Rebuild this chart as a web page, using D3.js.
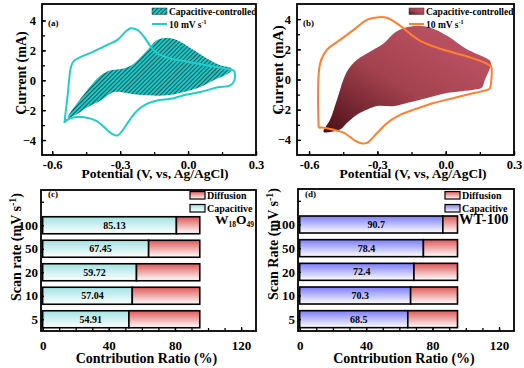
<!DOCTYPE html>
<html>
<head>
<meta charset="utf-8">
<script src="https://cdn.jsdelivr.net/npm/d3@7"></script>
<style>
body { margin: 0; background: #fff; }
text { font-family: "Liberation Serif", "Times New Roman", serif; font-weight: bold; fill: #000; }
</style>
</head>
<body>
<script>
//////////////// Data ////////////////////
// (a) W18O49 CV loop at 10 mV/s  [V, mA]
var cvLoopA = [
  [-0.546,-2.85],[-0.531,-0.9],[-0.517,0.9],[-0.505,1.28],[-0.473,1.57],[-0.42,1.9],
  [-0.356,2.36],[-0.312,2.7],[-0.275,3.26],[-0.253,3.48],[-0.224,3.37],[-0.195,2.92],
  [-0.165,2.25],[-0.136,1.8],[-0.078,1.46],[-0.004,1.24],[0.083,1.01],[0.157,0.79],
  [0.2,0.67],[0.205,0.56],[0.205,0.0],[0.186,-0.34],[0.127,-0.49],[0.054,-0.79],
  [-0.019,-1.01],[-0.078,-1.24],[-0.136,-1.35],[-0.18,-1.57],[-0.224,-2.02],[-0.26,-2.7],
  [-0.29,-3.37],[-0.312,-3.7],[-0.334,-3.6],[-0.37,-3.15],[-0.407,-2.7],[-0.458,-2.47],
  [-0.502,-2.47],[-0.539,-2.7],[-0.546,-2.85]
];
// (a) capacitive-controlled region
var capAreaA = [
  [-0.531,-2.52],[-0.458,-0.9],[-0.385,0.34],[-0.341,0.67],[-0.283,0.79],[-0.239,1.12],
  [-0.18,2.02],[-0.136,2.7],[-0.078,2.81],[-0.034,2.58],[0.025,2.02],[0.083,1.46],
  [0.142,1.01],[0.193,0.79],[0.186,0.56],[0.113,0.0],[0.054,-0.45],[-0.019,-0.79],
  [-0.092,-1.01],[-0.18,-1.01],[-0.253,-0.9],[-0.327,-0.79],[-0.385,-1.35],[-0.444,-1.8],
  [-0.502,-2.36]
];
// (b) WT-100 CV loop at 10 mV/s
var cvLoopB = [
  [-0.558,-3.19],[-0.551,1.1],[-0.521,1.98],[-0.462,2.64],[-0.403,3.3],[-0.344,3.96],
  [-0.292,4.13],[-0.256,4.07],[-0.196,3.52],[-0.152,2.97],[-0.108,2.53],[-0.034,2.09],
  [0.04,1.76],[0.114,1.43],[0.173,1.1],[0.195,0.92],[0.2,0.88],[0.195,-0.55],[0.188,-0.66],
  [0.129,-0.88],[0.04,-1.21],[-0.049,-1.54],[-0.137,-1.98],[-0.196,-2.31],[-0.256,-2.86],
  [-0.3,-3.52],[-0.344,-4.18],[-0.366,-4.24],[-0.396,-4.07],[-0.448,-3.52],[-0.5,-3.3],
  [-0.536,-3.19],[-0.558,-3.19]
];
// (b) capacitive-controlled region
var capAreaB = [
  [-0.536,-3.47],[-0.507,-2.64],[-0.477,-1.32],[-0.433,0.55],[-0.388,1.32],[-0.329,1.87],
  [-0.27,2.42],[-0.226,3.08],[-0.182,3.41],[-0.123,3.56],[-0.064,3.41],[0.01,2.86],
  [0.084,2.09],[0.143,1.65],[0.188,1.32],[0.199,1.1],[0.195,0.77],[0.173,0.0],
  [0.158,-0.55],[0.129,-0.66],[0.069,-0.77],[0.01,-0.88],[-0.049,-1.1],[-0.108,-1.32],
  [-0.167,-1.54],[-0.226,-1.76],[-0.3,-1.76],[-0.344,-1.98],[-0.388,-2.31],[-0.433,-2.86],
  [-0.462,-3.3],[-0.507,-3.47]
];

// (c), (d) contribution ratios
var scanRates = ["5", "10", "20", "50", "100"];
var capRatioC = [54.91, 57.04, 59.72, 67.45, 85.13];
var capRatioD = [68.5, 70.3, 72.4, 78.4, 90.7];
var barEnd = 95; // stacked bars end at ~95 on the ratio axis in the original

var cvTicksX = [-0.6, -0.3, 0.0, 0.3];
var cvTicksY = [-4, -2, 0, 2, 4];
var ratioTicks = [0, 40, 80, 120];

//////////////// SVG ////////////////////
var svg = d3.select("body").append("svg")
  .attr("width", 524).attr("height", 368);

var defs = svg.append("defs");

// hatch for (a)
var hatch = defs.append("pattern")
  .attr("id", "hatchA").attr("patternUnits", "userSpaceOnUse")
  .attr("width", 3).attr("height", 3)
  .attr("patternTransform", "rotate(45)");
hatch.append("rect").attr("width", 3).attr("height", 3).attr("fill", "#22c4c4");
hatch.append("rect").attr("width", 1).attr("height", 3).attr("fill", "#0a5c5c");

// gradient for (b)
var gB = defs.append("linearGradient").attr("id", "gradB")
  .attr("x1", 1).attr("y1", 0).attr("x2", 0).attr("y2", 1);
gB.append("stop").attr("offset", 0).attr("stop-color", "#c4586c");
gB.append("stop").attr("offset", 0.55).attr("stop-color", "#a4424f");
gB.append("stop").attr("offset", 1).attr("stop-color", "#4a0f18");

function vGrad(id, c1, c2) {
  var g = defs.append("linearGradient").attr("id", id)
    .attr("x1", 0).attr("y1", 0).attr("x2", 0).attr("y2", 1);
  g.append("stop").attr("offset", 0).attr("stop-color", c1);
  g.append("stop").attr("offset", 1).attr("stop-color", c2);
}
vGrad("capC", "#a2e2e2", "#ffffff");
vGrad("capD", "#7c7cff", "#ffffff");
vGrad("diff", "#de5858", "#ffffff");

//////////////// CV panels ////////////////////
function cvPanel(o) {
  var x = d3.scaleLinear().domain(o.xDom).range([o.x0, o.x1]);
  var y = d3.scaleLinear().domain(o.yDom).range([o.y1, o.y0]);
  var g = svg.append("g");

  var area = d3.line().x(function(d){return x(d[0]);}).y(function(d){return y(d[1]);})
    .curve(d3.curveCatmullRomClosed);
  var loop = d3.line().x(function(d){return x(d[0]);}).y(function(d){return y(d[1]);})
    .curve(d3.curveCatmullRom);

  g.append("path").datum(o.area).attr("d", area)
    .attr("fill", o.fill).attr("stroke", "none");

  g.append("path").datum(o.loop).attr("d", loop)
    .attr("fill", "none").attr("stroke", o.color).attr("stroke-width", 2)
    .attr("stroke-linejoin", "round");

  // axes
  g.append("g").attr("transform", "translate(0," + o.y1 + ")")
    .call(d3.axisBottom(x).tickValues(d3.range(-0.6, 0.31, 0.15)).tickSize(-3).tickFormat(""));
  g.append("g").attr("transform", "translate(0," + o.y1 + ")")
    .call(d3.axisBottom(x).tickValues(cvTicksX).tickSize(-4).tickPadding(5)
      .tickFormat(function(d){return d.toFixed(1);}))
    .selectAll("text").style("font-size", "12.5px");
  g.append("g").attr("transform", "translate(" + o.x0 + ",0)")
    .call(d3.axisLeft(y).tickValues(d3.range(-4, 5, 1)).tickSize(-3).tickFormat(""));
  g.append("g").attr("transform", "translate(" + o.x0 + ",0)")
    .call(d3.axisLeft(y).tickValues(cvTicksY).tickSize(-4).tickPadding(6))
    .selectAll("text").style("font-size", "12.5px");
  g.selectAll(".domain").remove();
  g.selectAll(".tick line").attr("stroke", "#000").attr("stroke-width", 1.3);

  g.append("rect").attr("x", o.x0).attr("y", o.y0)
    .attr("width", o.x1 - o.x0).attr("height", o.y1 - o.y0)
    .attr("fill", "none").attr("stroke", "#000").attr("stroke-width", 1.8);

  // titles
  g.append("text").attr("transform", "translate(" + o.yLabX + "," + o.yLabY + ") rotate(-90)")
    .attr("text-anchor", "middle").attr("dy", "0.35em").style("font-size", o.yLabSize + "px")
    .text("Current (mA)");
  g.append("text").attr("x", o.xLabX).attr("y", 178)
    .attr("text-anchor", "middle").style("font-size", "13.5px")
    .text("Potential (V, vs, Ag/AgCl)");
  g.append("text").attr("x", o.x0 + 6).attr("y", 26).style("font-size", "9px").text(o.tag);

  // legend
  g.append("rect").attr("x", o.legX).attr("y", 8).attr("width", 15).attr("height", 6.5)
    .attr("fill", o.fill).attr("stroke", "#333").attr("stroke-width", 0.5);
  g.append("text").attr("x", o.legX + 17).attr("y", 14.5).style("font-size", "9.5px")
    .text("Capacitive-controlled");
  g.append("line").attr("x1", o.legX).attr("x2", o.legX + 15).attr("y1", 24).attr("y2", 24)
    .attr("stroke", o.color).attr("stroke-width", 2);
  var t = g.append("text").attr("x", o.legX + 17).attr("y", 27.5).style("font-size", "9.5px");
  t.append("tspan").text("10 mV s");
  t.append("tspan").attr("dy", -4).style("font-size", "6px").text("-1");
}

cvPanel({x0: 42, x1: 256, y0: 4, y1: 155, xDom: [-0.645, 0.3], yDom: [-5, 5.1],
  loop: cvLoopA, area: capAreaA, color: "#20cccc", fill: "url(#hatchA)",
  yLabX: 21, yLabY: 73, yLabSize: 14, xLabX: 155, tag: "(a)", legX: 152});
cvPanel({x0: 297, x1: 514, y0: 4, y1: 155, xDom: [-0.653, 0.3], yDom: [-5, 5],
  loop: cvLoopB, area: capAreaB, color: "#ff7f2e", fill: "url(#gradB)",
  yLabX: 278, yLabY: 70, yLabSize: 15, xLabX: 413, tag: "(b)", legX: 409});

//////////////// Bar panels ////////////////////
function barPanel(o) {
  var x = d3.scaleLinear().domain([-1, 129]).range([o.x0, o.x1]);
  var y = d3.scaleLinear().domain([-0.5, 5.5]).range([o.y1, o.y0]);
  var g = svg.append("g");
  var bh = 17;

  var rows = g.selectAll("g.row").data(o.values).enter().append("g").attr("class", "row");
  rows.append("rect")
    .attr("x", x(0)).attr("y", function(d, i){return y(i) - bh / 2;})
    .attr("width", function(d){return x(d * barEnd / 100) - x(0);}).attr("height", bh)
    .attr("fill", "url(#" + o.capFill + ")").attr("stroke", "#000").attr("stroke-width", 1.6);
  rows.append("rect")
    .attr("x", function(d){return x(d * barEnd / 100);}).attr("y", function(d, i){return y(i) - bh / 2;})
    .attr("width", function(d){return x(barEnd) - x(d * barEnd / 100);}).attr("height", bh)
    .attr("fill", "url(#diff)").attr("stroke", "#000").attr("stroke-width", 1.6);
  rows.append("text")
    .attr("x", function(d){return x(d * barEnd / 200 + 3);}).attr("y", function(d, i){return y(i);})
    .attr("dy", "0.35em").attr("text-anchor", "middle").style("font-size", "10px")
    .text(function(d){return d;});

  g.append("g").attr("transform", "translate(0," + o.y1 + ")")
    .call(d3.axisBottom(x).tickValues(d3.range(0, 129, 10)).tickSize(-3).tickFormat(""));
  g.append("g").attr("transform", "translate(0," + o.y1 + ")")
    .call(d3.axisBottom(x).tickValues(ratioTicks).tickSize(-4).tickPadding(10))
    .selectAll("text").style("font-size", "13px");
  g.append("g").attr("transform", "translate(" + o.x0 + ",0)")
    .call(d3.axisLeft(y).tickValues(d3.range(0, 6)).tickSize(-3)
      .tickPadding(3).tickFormat(function(d){return scanRates[d] || "";}))
    .selectAll("text").style("font-size", "13px");
  g.selectAll(".domain").remove();
  g.selectAll(".tick line").attr("stroke", "#000").attr("stroke-width", 1.3);

  g.append("rect").attr("x", o.x0).attr("y", o.y0)
    .attr("width", o.x1 - o.x0).attr("height", o.y1 - o.y0)
    .attr("fill", "none").attr("stroke", "#000").attr("stroke-width", 1.8);

  var yl = g.append("text").attr("transform", "translate(" + o.yLabX + "," + o.yLabY + ") rotate(-90)")
    .attr("text-anchor", "middle").attr("dy", "0.35em").style("font-size", "14px");
  yl.append("tspan").text(o.yTitle + " (mV s");
  yl.append("tspan").attr("dy", -5).style("font-size", "10px").text("-1");
  yl.append("tspan").attr("dy", 5).text(")");
  g.append("text").attr("x", (o.x0 + o.x1) / 2 - 2).attr("y", 363)
    .attr("text-anchor", "middle").style("font-size", "14px").text("Contribution Ratio (%)");
  g.append("text").attr("x", o.x0 + 7).attr("y", 197).style("font-size", "9px").text(o.tag);

  // legend
  g.append("rect").attr("x", o.legX).attr("y", 191.5).attr("width", 15).attr("height", 7.5)
    .attr("fill", "url(#diff)").attr("stroke", "#000").attr("stroke-width", 1.2);
  g.append("text").attr("x", o.legX + 17).attr("y", 198.5).style("font-size", "10px").text("Diffusion");
  g.append("rect").attr("x", o.legX).attr("y", 204.5).attr("width", 15).attr("height", 7.5)
    .attr("fill", "url(#" + o.capFill + ")").attr("stroke", "#000").attr("stroke-width", 1.2);
  g.append("text").attr("x", o.legX + 17).attr("y", 211.5).style("font-size", "10px").text("Capacitive");
  o.sample(g);
}

barPanel({x0: 41, x1: 256, y0: 190, y1: 331, values: capRatioC, capFill: "capC",
  yLabX: 16, yLabY: 247, yTitle: "Scan rate", tag: "(c)", legX: 190,
  sample: function(g) {
    var t = g.append("text").attr("x", 215).attr("y", 224).style("font-size", "13.5px");
    t.append("tspan").text("W");
    t.append("tspan").attr("dy", 3).style("font-size", "7.5px").text("18");
    t.append("tspan").attr("dy", -3).text("O");
    t.append("tspan").attr("dy", 3).style("font-size", "7.5px").text("49");
  }});
barPanel({x0: 298, x1: 514, y0: 189, y1: 331, values: capRatioD, capFill: "capD",
  yLabX: 273, yLabY: 244, yTitle: "Scan Rate", tag: "(d)", legX: 445,
  sample: function(g) {
    g.append("text").attr("x", 459).attr("y", 224).style("font-size", "14.5px").text("WT-100");
  }});
</script>
</body>
</html>
